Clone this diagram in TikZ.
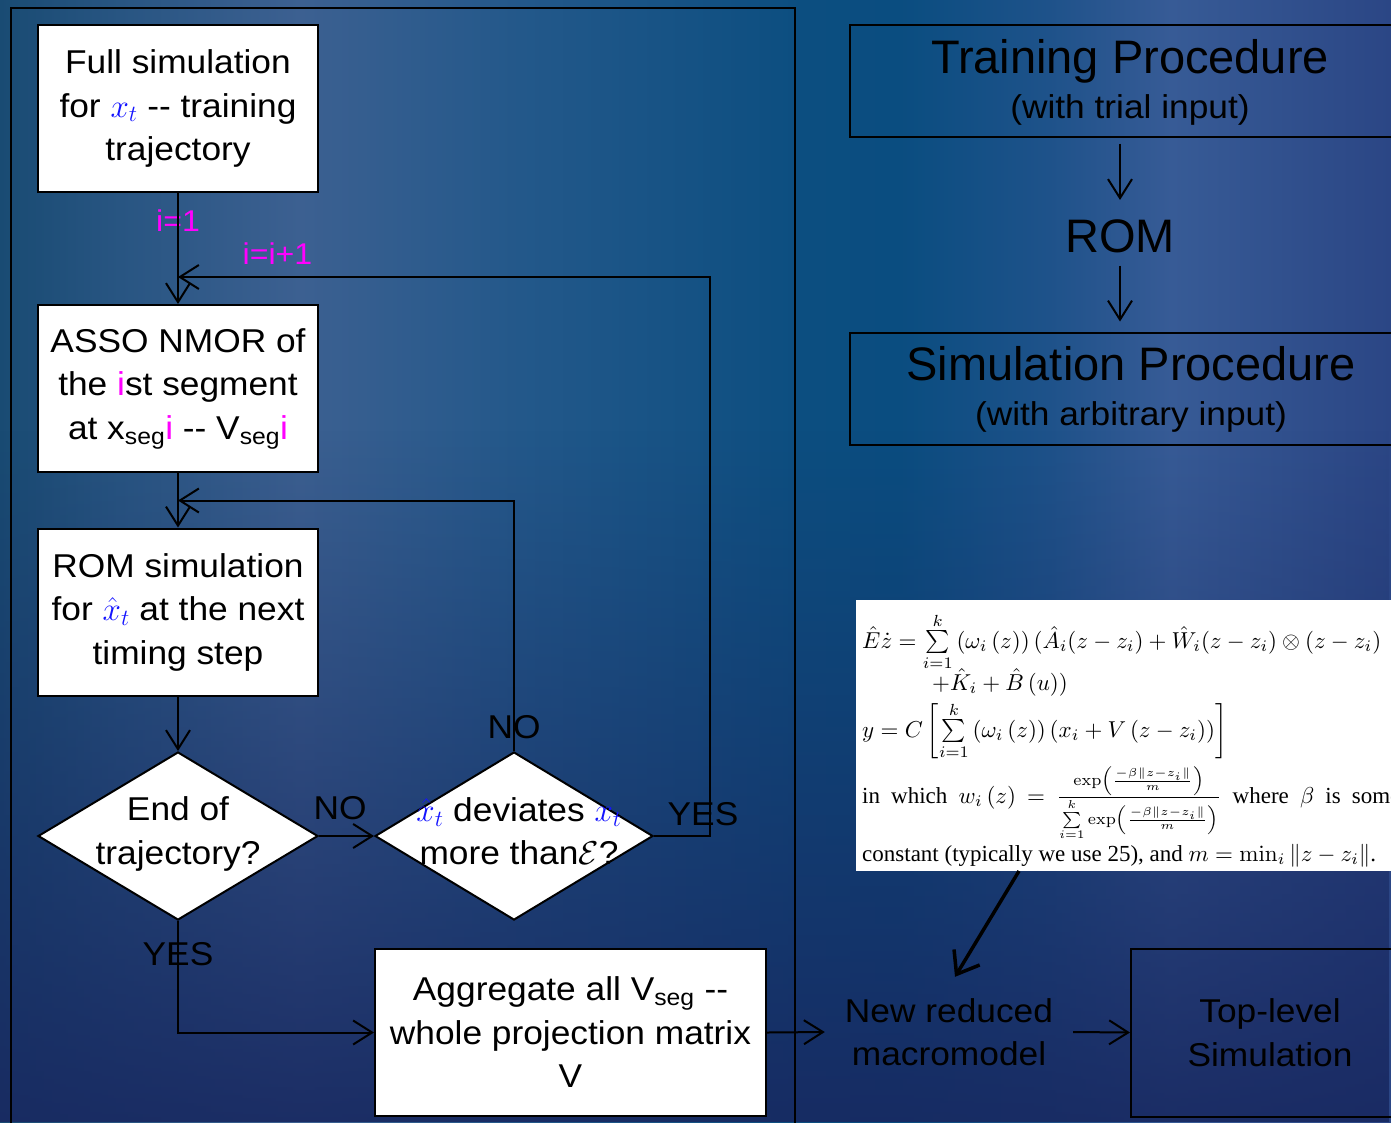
\RequirePackage{fix-cm}
\documentclass[tikz,border=0pt]{standalone}
\usepackage{amsmath}
\usepackage{graphicx}
\usepackage[no-math]{fontspec}
\setmainfont[FakeStretch=1.07]{Liberation Sans}
\newfontfamily\titlefont{Liberation Sans}
\newfontfamily\tms{Liberation Serif}
\usetikzlibrary{shapes.geometric,arrows.meta,fadings,calc}
\definecolor{mag}{RGB}{255,0,255}
\definecolor{xblue}{RGB}{20,20,255}
\definecolor{navyov}{RGB}{24,40,96}
\definecolor{c0}{RGB}{25,75,115}
\definecolor{c1}{RGB}{40,85,130}
\definecolor{c2}{RGB}{60,96,145}
\definecolor{c3}{RGB}{35,88,138}
\definecolor{c4}{RGB}{12,78,128}
\definecolor{c5}{RGB}{10,77,128}
\definecolor{c6}{RGB}{30,82,138}
\definecolor{c7}{RGB}{55,91,150}
\definecolor{c8}{RGB}{43,70,133}
\pgfdeclarehorizontalshading{bgh}{100bp}{color(0bp)=(c0); color(25bp)=(c0); color(29.3bp)=(c1); color(35.8bp)=(c2); color(43.7bp)=(c3); color(53.8bp)=(c4); color(57.3bp)=(c5); color(62.7bp)=(c6); color(67.1bp)=(c7); color(75bp)=(c8); color(100bp)=(c8)}
\newcommand{\eqs}[1]{\scalebox{2.3}{\fontsize{10}{12}\selectfont\tms #1}}
\newcommand{\ifrac}{\frac{-\beta\|z-z_i\|}{m}}
\tikzset{
  bodyf/.style={font=\fontsize{33}{43.5}\selectfont},
  titlef/.style={font=\titlefont\fontsize{47}{50}\selectfont},
  box/.style={draw, fill=white, line width=2pt, rectangle, inner sep=0pt, align=center,
              minimum width=280pt, minimum height=167pt, bodyf},
  dia/.style={draw, fill=white, line width=2pt, diamond, inner sep=0pt,
              minimum width=280pt, minimum height=168pt},
  dtext/.style={align=center, inner sep=0pt, bodyf},
  frame/.style={draw, line width=2pt, inner sep=0pt},
  lbl/.style={inner sep=0pt, bodyf},
  mlbl/.style={inner sep=0pt, text=mag, font=\fontsize{30}{36}\selectfont},
  arr/.style={line width=2pt, -{Straight Barb[length=19pt,width=24pt]}},
  bigarr/.style={line width=3.5pt, -{Straight Barb[length=20pt,width=30pt]}},
  eqline/.style={anchor=base west, inner sep=0pt}
}
\begin{document}
\begin{tikzpicture}[x=1pt,y=-1pt]
\useasboundingbox (0,0) rectangle (1391,1122);
% background
\fill[shading=bgh] (0,0) rectangle (1391,1122);
\fill[navyov, path fading=north, fill opacity=0.9] (0,430) rectangle (1391,1122);
% big frame
\draw[line width=2pt] (11,8) rectangle (795,1140);

% left flow
\node[box] (b1) at (178,108.5) {Full simulation\\for {\color{xblue}$x_t$} -{}- training\\trajectory};
\node[box] (b2) at (178,388.5) {ASSO NMOR of\\the {\color{mag}i}st segment\\at x\textsubscript{seg}{\color{mag}i} -{}- V\textsubscript{seg}{\color{mag}i}};
\node[box] (b3) at (178,612) {ROM simulation\\for {\color{xblue}$\hat{x}_t$} at the next\\timing step};
\node[dia] (d1) at (178,836) {};
\node[dtext] (d1t) at (178,834) {End of\\trajectory?};
\node[dia, minimum width=278pt] (d2) at (514,836) {};
\node[dtext] (d2t) at (519,831) {{\color{xblue}$\hat{x}_t$} deviates {\color{xblue}$x_t$}\\more than$\mathcal{E}$?};
\node[box, minimum width=391pt] (b4) at (570.5,1032.5) {Aggregate all V\textsubscript{seg} -{}-\\whole projection matrix\\V};

% labels
\node[mlbl] (l1) at (178,221) {i=1};
\node[mlbl] (l2) at (277.5,254) {i=i+1};
\node[lbl] (no1) at (340,808) {NO};
\node[lbl] (no2) at (514,727) {NO};
\node[lbl] (yes1) at (703,814.5) {YES};
\node[lbl] (yes2) at (178,954.5) {YES};

% junctions
\coordinate (j1) at (178,277);
\coordinate (r1) at (710,277);
\coordinate (j2) at (178,500.5);

% connectors left
\draw[arr] (b1) -- (b2);
\draw[arr] (b2) -- (b3);
\draw[arr] (b3) -- (d1);
\draw[arr] (d1.east) -- (d2.west);
\draw[arr] (d2.east) -| (r1) -- (j1);
\draw[arr] (d2.north) |- (j2);
\draw[arr] (d1.south) |- (b4.west);

% bottom right
\node[inner sep=0pt, align=center, minimum width=248pt, minimum height=110pt, bodyf] (nr) at (949,1032) {New reduced\\macromodel};
\node[frame, align=center, minimum width=278pt, minimum height=168pt, bodyf] (tl) at (1270,1032.5) {Top-level\\Simulation};
\draw[arr] (b4.east) -- (nr.west);
\draw[arr] (nr.east) -- (tl.west);

% top right
\node[frame, minimum width=560pt, minimum height=112pt] (tp) at (1130,80.5) {};
\node[titlef, anchor=base, inner sep=0pt] (tpt) at (1130,73) {Training Procedure};
\node[bodyf, anchor=base, inner sep=0pt] (tps) at (1130,118) {(with trial input)};
\node[titlef, anchor=base, inner sep=0pt] (rom) at (1120,252) {ROM};
\node[frame, minimum width=560pt, minimum height=112pt] (sp) at (1130,388.5) {};
\node[titlef, anchor=base, inner sep=0pt] (spt) at (1131,380) {Simulation Procedure};
\node[bodyf, anchor=base, inner sep=0pt] (sps) at (1131,425) {(with arbitrary input)};
\draw[arr] ($(tp.south -| rom.north)+(0,6)$) -- ($(rom.north)+(0,-19)$);
\draw[arr] ($(rom.south)+(0,13)$) -- ($(sp.north -| rom.south)+(0,-10)$);

% equation image
\node[fill=white, inner sep=0pt, minimum width=545pt, minimum height=271pt, anchor=north west] (eq) at (856,600) {};
\begin{scope}
\clip (856,600) rectangle (1391,871);
\node[eqline] (e1) at (862,648) {\eqs{$\hat{E}\dot{z}=\sum\limits_{i=1}^{k}\left(\omega_i\left(z\right)\right)(\hat{A}_i(z-z_i)+\hat{W}_i(z-z_i)\otimes\left(z-z_i\right)$}};
\node[eqline] (e2) at (932,690) {\eqs{$+\hat{K}_i+\hat{B}\left(u\right))$}};
\node[eqline] (e3) at (862,737) {\eqs{$y=C\left[\sum\limits_{i=1}^{k}\left(\omega_i\left(z\right)\right)\left(x_i+V\left(z-z_i\right)\right)\right]$}};
\node[eqline] (e4) at (862,803) {\eqs{\makebox[234pt][s]{in which $w_i\left(z\right)$ $=$ $\frac{\exp\left(\ifrac\right)}{\sum\limits_{i=1}^{k}\exp\left(\ifrac\right)}$ where $\beta$ is some}}};
\node[eqline] (e5) at (862,861) {\eqs{constant (typically we use 25), and $m=\min_i\|z-z_i\|$.}};
\end{scope}
\coordinate (eqa) at (1019,871);
\draw[bigarr] (eqa) -- ($(nr.north)+(6,0)$);
\end{tikzpicture}
\end{document}
